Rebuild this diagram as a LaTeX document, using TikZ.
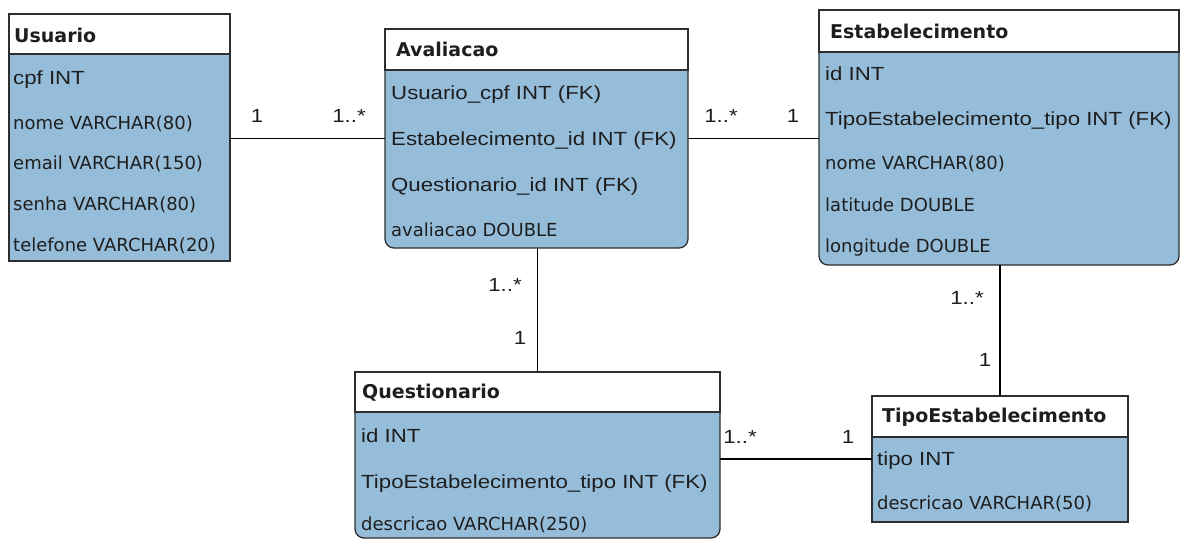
\documentclass[tikz,border=0pt]{standalone}
\usepackage{fontspec}
\newfontfamily\attrfont[FakeStretch=1.17]{Liberation Sans}
\newfontfamily\colfont{DejaVu Sans}
\newfontfamily\headfont{DejaVu Sans}
\definecolor{tblblue}{HTML}{95BDDA}
\definecolor{linec}{HTML}{2E2E2E}
\definecolor{txt}{HTML}{1E1E1E}
\tikzset{
  body/.style={draw=linec, line width=1.3pt, fill=tblblue, anchor=north west,
    inner sep=0pt, outer sep=0pt},
  roundbody/.style={body, rounded corners=9pt},
  head/.style={draw=linec, line width=1.3pt, fill=white, anchor=north west,
    inner sep=0pt, outer sep=0pt},
  title/.style={anchor=west, inner sep=0pt, text=txt, text height=13.9pt, text depth=0pt,
    font=\headfont\bfseries\fontsize{19}{21}\selectfont},
  keycol/.style={anchor=west, inner sep=0pt, text=txt, text height=13.6pt, text depth=0pt,
    font=\attrfont\fontsize{19}{21}\selectfont},
  col/.style={anchor=west, inner sep=0pt, text=txt, text height=13.1pt, text depth=0pt,
    font=\colfont\fontsize{18}{20}\selectfont},
  card/.style={anchor=center, inner sep=0pt, text=txt, text height=13.6pt, text depth=0pt,
    font=\attrfont\fontsize{19}{21}\selectfont},
  rel/.style={draw=black, line width=1.3pt}
}
\begin{document}
\begin{tikzpicture}[x=1pt, y=-1pt]
\useasboundingbox (0,0) rectangle (1180,541);

% Usuario
\node[body, minimum width=221pt, minimum height=247pt] (usu) at (9,14) {};
\node[head, minimum width=221pt, minimum height=40pt] (usuh) at (9,14) {};
\node[title] (usut) at (14,36) {Usuario};
\node[keycol] (usu1) at (13,78) {cpf INT};
\node[col] (usu2) at (13,123) {nome VARCHAR(80)};
\node[col] (usu3) at (13,163) {email VARCHAR(150)};
\node[col] (usu4) at (13,204) {senha VARCHAR(80)};
\node[col] (usu5) at (13,245) {telefone VARCHAR(20)};

% Avaliacao
\node[roundbody, minimum width=303pt, minimum height=219pt] (ava) at (385,29) {};
\node[head, minimum width=303pt, minimum height=41pt] (avah) at (385,29) {};
\node[title] (avat) at (396,50) {Avaliacao};
\node[keycol] (ava1) at (391,93) {Usuario\_cpf INT (FK)};
\node[keycol] (ava2) at (391,139) {Estabelecimento\_id INT (FK)};
\node[keycol] (ava3) at (391,185) {Questionario\_id INT (FK)};
\node[col] (ava4) at (391,230) {avaliacao DOUBLE};

% Estabelecimento
\node[roundbody, minimum width=360pt, minimum height=255pt] (est) at (819,10) {};
\node[head, minimum width=360pt, minimum height=42pt] (esth) at (819,10) {};
\node[title] (estt) at (830,32) {Estabelecimento};
\node[keycol] (est1) at (825,74) {id INT};
\node[keycol] (est2) at (825,119) {TipoEstabelecimento\_tipo INT (FK)};
\node[col] (est3) at (825,163) {nome VARCHAR(80)};
\node[col] (est4) at (825,205) {latitude DOUBLE};
\node[col] (est5) at (825,246) {longitude DOUBLE};

% Questionario
\node[roundbody, minimum width=365pt, minimum height=166pt] (que) at (355,372) {};
\node[head, minimum width=365pt, minimum height=40pt] (queh) at (355,372) {};
\node[title] (quet) at (362,392) {Questionario};
\node[keycol] (que1) at (361,436) {id INT};
\node[keycol] (que2) at (361,482) {TipoEstabelecimento\_tipo INT (FK)};
\node[col] (que3) at (361,524) {descricao VARCHAR(250)};

% TipoEstabelecimento
\node[body, minimum width=256pt, minimum height=126pt] (tip) at (872,396) {};
\node[head, minimum width=256pt, minimum height=41pt] (tiph) at (872,396) {};
\node[title] (tipt) at (882,416) {TipoEstabelecimento};
\node[keycol] (tip1) at (877,459) {tipo INT};
\node[col] (tip2) at (877,503) {descricao VARCHAR(50)};

% Relationships
\draw[rel] (usu.east |- ava.west) -- (ava.west);
\draw[rel] (ava.east) -- (est.west |- ava.east);
\draw[rel] (que.north |- ava.south) -- (que.north);
\draw[rel] (tiph.north |- est.south) -- (tiph.north);
\draw[rel] (que.east |- tip.west) -- (tip.west);

% Cardinalities
\node[card] (c1) at (257,116) {1};
\node[card] (c2) at (349,116) {1..*};
\node[card] (c3) at (721,116) {1..*};
\node[card] (c4) at (793,116) {1};
\node[card] (c5) at (505,285) {1..*};
\node[card] (c6) at (520,338) {1};
\node[card] (c7) at (967,298) {1..*};
\node[card] (c8) at (985,360) {1};
\node[card] (c9) at (740,437) {1..*};
\node[card] (c10) at (848,437) {1};
\end{tikzpicture}
\end{document}
